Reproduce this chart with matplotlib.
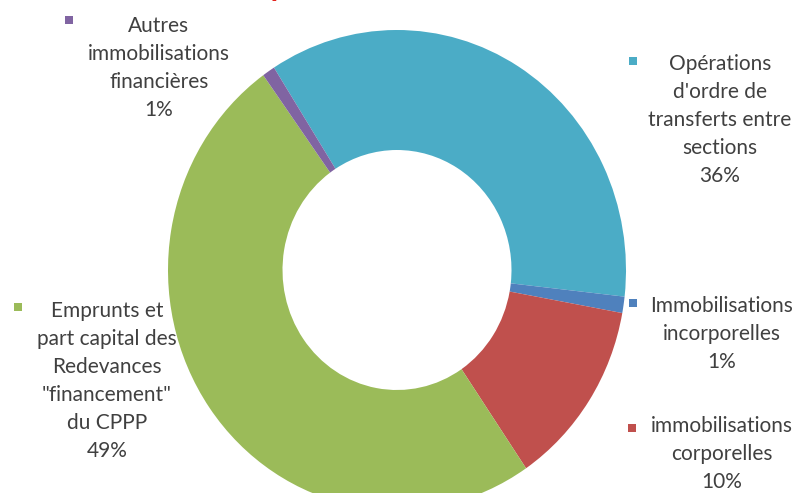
import matplotlib
matplotlib.use('Agg')
import matplotlib.pyplot as plt
from matplotlib.patches import Rectangle

W, H = 801, 493

# données du graphique
categories = ["Opérations\nd'ordre de\ntransferts entre\nsections",
              "Immobilisations\nincorporelles",
              "immobilisations\ncorporelles",
              "Emprunts et\npart capital des\nRedevances\n\"financement\"\ndu CPPP",
              "Autres\nimmobilisations\nfinancières"]
valeurs = [35.8, 1.1, 12.6, 49.6, 0.9]
pct_labels = ["36%", "1%", "10%", "49%", "1%"]
couleurs = ['#4BACC6', '#4F81BD', '#C0504D', '#9BBB59', '#8064A2']

plt.rcParams['font.family'] = ['Lato', 'DejaVu Sans']

fig = plt.figure(figsize=(W / 100, H / 100), dpi=100)

def px(x, y):
    # pixel (depuis le haut) -> fraction de figure
    return x / W, 1 - y / H

# axe du donut (légèrement étiré verticalement comme l'image)
x0, y0, x1, y1 = 168, 30, 626, 510
ax = fig.add_axes([x0 / W, 1 - y1 / H, (x1 - x0) / W, (y1 - y0) / H])
ax.pie(valeurs, colors=couleurs, startangle=122.5, counterclock=False,
       radius=1.0, wedgeprops=dict(width=0.5, edgecolor='none'))
ax.set_aspect('auto')
ax.set_xlim(-1, 1)
ax.set_ylim(-1, 1)
ax.axis('off')

# étiquettes (centre x du bloc, centre y de la 1re ligne, position du carré)
pos_txt = [(720, 63), (722, 305), (722, 425), (107, 310), (159, 25)]
pos_key = [(633, 61), (633, 303), (632, 428), (18, 307), (69, 20)]

for cat, pct, col, (tx, ty), (kx, ky) in zip(categories, pct_labels, couleurs, pos_txt, pos_key):
    fx, fy = px(tx, ty - 9)
    fig.text(fx, fy, cat + "\n" + pct, ha='center', va='top', multialignment='center',
             fontsize=15, color='#404040', linespacing=1.5,
             transform=fig.transFigure)
    kfx, kfy = px(kx - 4, ky + 4)
    fig.patches.append(Rectangle((kfx, kfy), 8 / W, 8 / H, transform=fig.transFigure,
                                 facecolor=col, edgecolor='none', figure=fig))

# titre coupé en haut de l'image
tfx, tfy = px(416, -4)
fig.text(tfx, tfy, "Dépenses d'investissement", ha='center', va='baseline',
         fontsize=22, fontweight='bold', color='#E3231D')

fig.savefig('out.png', dpi=100)
